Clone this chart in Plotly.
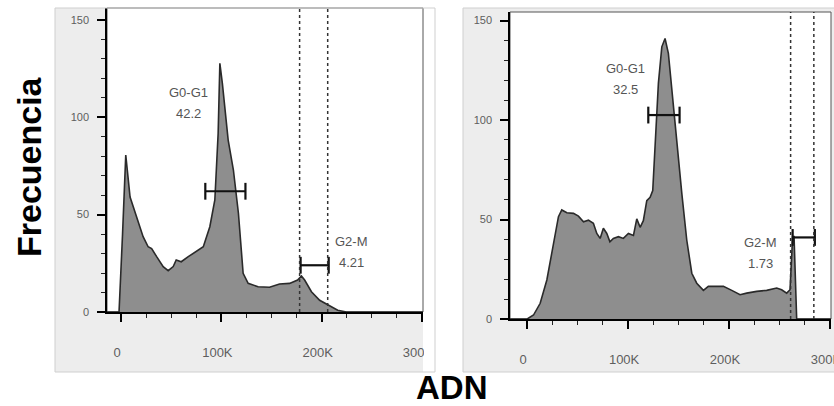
import plotly.graph_objects as go

W, H = 834, 406

# DNA content (channel) vs. cell count, first sample
ctrl_adn = [-14000, -2000, 1500, 4700, 9000, 15600, 22000, 27000, 30500, 35500,
            42000, 47000, 52000, 55000, 60000, 67000, 75000, 82000, 88500, 93500,
            96800, 98500, 101000, 106800, 112000, 117000, 121700, 126700, 136600, 148000,
            158000, 168000, 176000, 179800, 183000, 189800, 198000, 208000, 216000, 224600,
            301000]
ctrl_freq = [0, 0, 40, 80.6, 59, 49, 38.7, 33.5, 32.6, 28.4,
             23.3, 21.2, 23.3, 26.7, 25.8, 28.4, 31, 33.5, 43.8, 57.5,
             91.8, 127.7, 117.4, 88.3, 72.9, 50.7, 19.9, 14.7, 13, 12.7,
             14.4, 14.7, 16.4, 18.5, 16.4, 10.4, 6, 3.4, 0.9, 0,
             0]

# DNA content (channel) vs. cell count, second sample
trat_adn = [-17000, 0, 6300, 12900, 19500, 26000, 31000, 34300, 39300, 45900,
            50800, 55800, 60700, 65600, 69000, 72300, 75500, 78900, 82000, 85400,
            90400, 95300, 100300, 105300, 108600, 111900, 115100, 118500, 121800, 124400,
            126700, 130000, 133400, 136600, 139900, 143300, 148200, 153200, 158100, 163100,
            168000, 174600, 179500, 187800, 194400, 202700, 210900, 217500, 227400, 237300,
            247200, 252100, 257100, 260400, 263000, 264400, 267000, 301000]
trat_freq = [0, 0, 2, 7.9, 19.6, 38, 51.4, 54.8, 53.4, 53.1,
             51.7, 48.9, 49.7, 48.1, 43, 40.5, 45.6, 43, 38.8, 40.5,
             41.4, 40.5, 43, 42, 50.3, 46.1, 49.4, 59.5, 61.2, 64.5,
             90, 118.4, 136.8, 141, 133.5, 115, 88.3, 63.1, 39.7, 23,
             18, 14.4, 16.4, 16.4, 16.4, 14.4, 12.2, 13, 13.9, 14.4,
             15.6, 14.7, 13, 14.7, 41.4, 41.4, 0, 0]

# Gates: (start, end, drawn height) and their percentages
gate_names = ["G0-G1", "G2-M"]
ctrl_gates = [(84000, 124000, 62), (179000, 207000, 24)]
ctrl_pct = ["42.2", "4.21"]
ctrl_g2m_marks = [178000, 206000]
trat_gates = [(120000, 151000, 102.5), (263000, 285000, 41)]
trat_pct = ["32.5", "1.73"]
trat_g2m_marks = [261000, 284000]

tick_vals = [0, 100000, 200000, 300000]
tick_text = ["0", "100K", "200K", "300K"]
y_ticks = [0, 50, 100, 150]

FILL = "#8e8e8e"
LINE = "#2a2a2a"
FRAME_BG = "#ededed"
TICK_TXT = "#5e5e5e"
FONT = "Liberation Sans"


def pxx(p):
    return p / W


def pxy(p):
    return 1 - p / H


fig = go.Figure()

panels = [
    ("x", "y", ctrl_adn, ctrl_freq, ctrl_gates, ctrl_pct, ctrl_g2m_marks),
    ("x2", "y2", trat_adn, trat_freq, trat_gates, trat_pct, trat_g2m_marks),
]

for xa, ya, adn, freq, gates, pct, marks in panels:
    fig.add_trace(go.Scatter(
        x=adn, y=freq, xaxis=xa, yaxis=ya, mode="lines",
        line=dict(color=LINE, width=1.6), fill="tozeroy", fillcolor=FILL,
        hoverinfo="skip", showlegend=False))
    for (g0, g1, gy) in gates:
        fig.add_trace(go.Scatter(
            x=[g0, g1], y=[gy, gy], xaxis=xa, yaxis=ya, mode="lines+markers",
            line=dict(color="#111", width=2.2),
            marker=dict(symbol="line-ns-open", size=12,
                        line=dict(color="#111", width=2.2)),
            hoverinfo="skip", showlegend=False, cliponaxis=False))
    for m in marks:
        fig.add_shape(type="line", xref=xa, yref=f"{ya} domain",
                      x0=m, x1=m, y0=0, y1=1,
                      line=dict(color="#333", width=1.5, dash="3px,3px"),
                      layer="above")

# label placement for each gate (data coordinates of the label centre)
label_pos = {
    "x": [(67000, 107.5), (230000, 30.8)],
    "x2": [(97000, 120.6), (230700, 33.4)],
}
for xa, ya, adn, freq, gates, pct, marks in panels:
    for (name, p), (lx, ly) in zip(zip(gate_names, pct), label_pos[xa]):
        for txt, dy in ((name, 10.5), (p, -10.5)):
            fig.add_annotation(x=lx, y=ly, xref=xa, yref=ya, showarrow=False,
                               text=txt, yshift=dy, xanchor="center", yanchor="middle",
                               font=dict(family=FONT, size=13, color="#555"))

shapes = [
    # grey frames around each panel
    dict(type="rect", xref="paper", yref="paper", x0=pxx(55), x1=pxx(423),
         y0=pxy(372), y1=pxy(8), fillcolor=FRAME_BG, line=dict(width=0), layer="below"),
    dict(type="rect", xref="paper", yref="paper", x0=pxx(463), x1=pxx(834),
         y0=pxy(372), y1=pxy(8), fillcolor=FRAME_BG, line=dict(width=0), layer="below"),
    # white plotting areas
    dict(type="rect", xref="paper", yref="paper", x0=pxx(107), x1=pxx(423),
         y0=pxy(312), y1=pxy(8), fillcolor="white", line=dict(color="#555", width=1),
         layer="below"),
    dict(type="rect", xref="paper", yref="paper", x0=pxx(510), x1=pxx(831),
         y0=pxy(319), y1=pxy(12), fillcolor="white", line=dict(color="#555", width=1),
         layer="below"),
    # trim the left panel at its edge
    dict(type="rect", xref="paper", yref="paper", x0=pxx(424), x1=pxx(462),
         y0=pxy(372), y1=1, fillcolor="white", line=dict(width=0), layer="above"),
    # thin outer borders
    dict(type="rect", xref="paper", yref="paper", x0=pxx(55), x1=pxx(435),
         y0=pxy(372), y1=pxy(8), fillcolor="rgba(0,0,0,0)",
         line=dict(color="#cfcfcf", width=1), layer="above"),
    dict(type="rect", xref="paper", yref="paper", x0=pxx(463), x1=pxx(836),
         y0=pxy(372), y1=pxy(8), fillcolor="rgba(0,0,0,0)",
         line=dict(color="#cfcfcf", width=1), layer="above"),
]
for s in shapes:
    fig.add_shape(**s)


def xaxis(domain, rng, anchor):
    return dict(domain=domain, range=rng, anchor=anchor, automargin=False,
                showline=True, linecolor="black", linewidth=1.5,
                ticks="outside", ticklen=8, tickwidth=1.5, tickcolor="black",
                tickvals=tick_vals, ticktext=tick_text,
                minor=dict(ticks="outside", ticklen=4, tickwidth=1.2, tickcolor="#222",
                           tickmode="linear", tick0=0, dtick=25000),
                tickfont=dict(family=FONT, size=13, color=TICK_TXT),
                ticklabelstandoff=20, ticklabelshift=-4, ticklabeloverflow="allow",
                showgrid=False, zeroline=False, fixedrange=True)


def yaxis(domain, rng, anchor):
    return dict(domain=domain, range=rng, anchor=anchor, automargin=False,
                showline=True, linecolor="black", linewidth=1.5,
                ticks="outside", ticklen=8, tickwidth=1.5, tickcolor="black",
                tickvals=y_ticks,
                minor=dict(ticks="outside", ticklen=4, tickwidth=1.2, tickcolor="#222",
                           tickmode="linear", tick0=0, dtick=10),
                tickfont=dict(family=FONT, size=11, color=TICK_TXT),
                ticklabelstandoff=6, ticklabeloverflow="allow",
                showgrid=False, zeroline=False, fixedrange=True)


fig.update_layout(
    template="none",
    width=W, height=H,
    margin=dict(l=0, r=0, t=0, b=0, pad=0, autoexpand=False),
    paper_bgcolor="white", plot_bgcolor="rgba(0,0,0,0)",
    xaxis=xaxis([pxx(107), pxx(423)], [-14000, 301000], "y"),
    yaxis=yaxis([pxy(312), pxy(8)], [0, 156.1], "x"),
    xaxis2=xaxis([pxx(510), pxx(831)], [-17000, 301000], "y2"),
    yaxis2=yaxis([pxy(319), pxy(12)], [0, 154.3], "x2"),
    showlegend=False,
)

fig.add_annotation(x=pxx(29), y=pxy(167), xref="paper", yref="paper",
                   xanchor="center", yanchor="middle",
                   text="<b>Frecuencia</b>", textangle=-90, showarrow=False,
                   font=dict(family=FONT, size=34, color="black"))
fig.add_annotation(x=pxx(452), y=pxy(387), xref="paper", yref="paper",
                   xanchor="center", yanchor="middle",
                   text="<b>ADN</b>", showarrow=False,
                   font=dict(family=FONT, size=33, color="black"))

fig.write_html("out.html")
